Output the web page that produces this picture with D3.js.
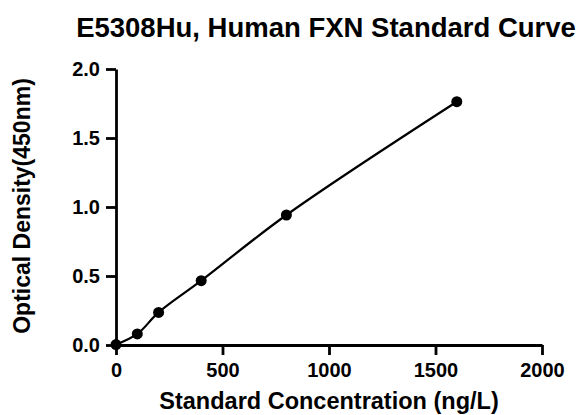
<!DOCTYPE html>
<html>
<head>
<meta charset="utf-8">
<script src="https://cdn.jsdelivr.net/npm/d3@7"></script>
<style>
  body { margin: 0; background: #fff; }
  text { font-family: "Liberation Sans", Arial, sans-serif; font-weight: bold; fill: #000; }
</style>
</head>
<body>
<svg class="container" width="581" height="415"></svg>
<script>
let title = "E5308Hu, Human FXN Standard Curve";
let xLabel = "Standard Concentration (ng/L)";
let yLabel = "Optical Density(450nm)";
let concentration = [0, 100, 200, 400, 800, 1600];
let density = [0.003, 0.080, 0.236, 0.466, 0.942, 1.763];
let xTicks = [0, 500, 1000, 1500, 2000];
let yTicks = [0, 0.5, 1.0, 1.5, 2.0];

let svg = d3.select(".container");
let x = d3.scaleLinear().domain([0, 2000]).range([116, 542]);
let y = d3.scaleLinear().domain([0, 2]).range([345, 69]);

let points = concentration.map((c, i) => ({ c: c, od: density[i] }));

// fitted curve
svg.append("path")
    .datum(points)
    .attr("fill", "none")
    .attr("stroke", "#000")
    .attr("stroke-width", 2.2)
    .attr("d", d3.line().x(d => x(d.c)).y(d => y(d.od)).curve(d3.curveCatmullRom.alpha(0.5)));

// axes
let xAxis = svg.append("g")
    .attr("transform", "translate(0," + y(0) + ")")
    .call(d3.axisBottom(x).tickValues(xTicks).tickSize(10).tickSizeOuter(0).tickFormat(d3.format("d")));
let yAxis = svg.append("g")
    .attr("transform", "translate(" + x(0) + ",0)")
    .call(d3.axisLeft(y).tickValues(yTicks).tickSize(10).tickPadding(6).tickSizeOuter(0).tickFormat(d3.format(".1f")));

[xAxis, yAxis].forEach(g => {
    g.select(".domain").attr("stroke", "#000").attr("stroke-width", 2.8);
    g.selectAll(".tick line").attr("stroke", "#000").attr("stroke-width", 2.8);
    g.selectAll(".tick text").attr("font-size", 20).attr("font-family", null).attr("fill", "#000");
});
xAxis.selectAll(".tick text").attr("y", 18);

// markers
svg.append("g")
    .selectAll("circle")
    .data(points)
    .enter()
    .append("circle")
    .attr("cx", d => x(d.c))
    .attr("cy", d => y(d.od))
    .attr("r", 5.5)
    .attr("fill", "#000");

// titles
svg.append("text")
    .attr("x", 326)
    .attr("y", 37)
    .attr("text-anchor", "middle")
    .attr("font-size", 27.5)
    .text(title);

svg.append("text")
    .attr("x", 329)
    .attr("y", 409)
    .attr("text-anchor", "middle")
    .attr("font-size", 23.5)
    .text(xLabel);

svg.append("text")
    .attr("transform", "translate(30,206) rotate(-90)")
    .attr("text-anchor", "middle")
    .attr("font-size", 23)
    .text(yLabel);
</script>
</body>
</html>
